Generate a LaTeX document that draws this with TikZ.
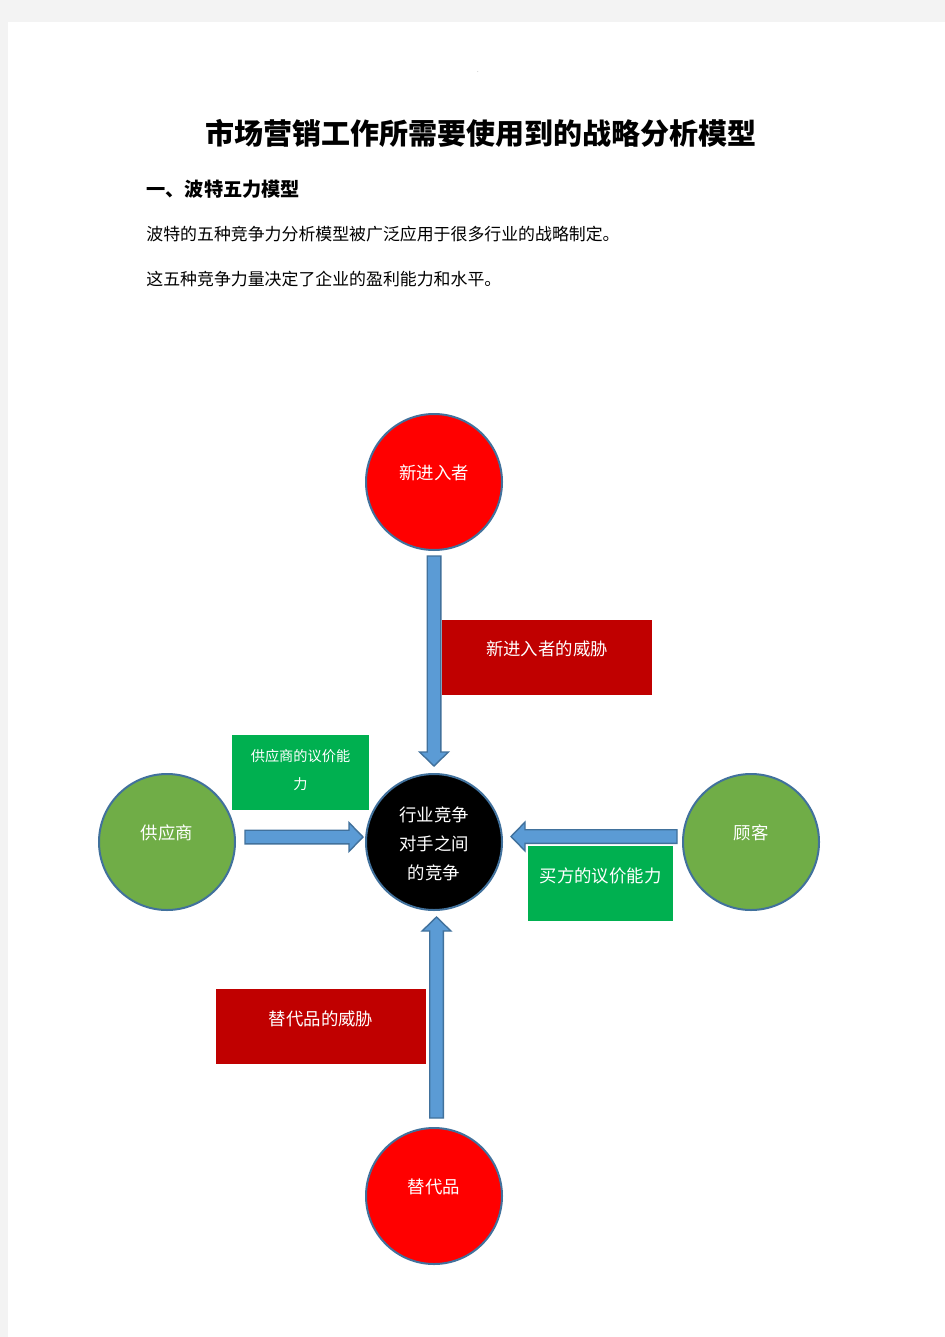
\documentclass[tikz,border=0pt]{standalone}
\usepackage{fontspec}
\setmainfont{Noto Sans CJK SC}
\usetikzlibrary{calc}

\definecolor{pagegray}{HTML}{F3F3F3}
\definecolor{forcered}{HTML}{FF0000}
\definecolor{threatred}{HTML}{C00000}
\definecolor{powergreen}{HTML}{00B050}
\definecolor{partygreen}{HTML}{70AD47}
\definecolor{arrowblue}{HTML}{5B9BD5}
\definecolor{ringblue}{HTML}{41719C}

\tikzset{
  force/.style={circle, draw=ringblue, line width=1pt, minimum size=68pt, inner sep=0pt},
  forcetext/.style={text=white, font=\fontsize{8.7pt}{10pt}\selectfont},
  threatbox/.style={rectangle, fill=threatred, minimum width=105pt, minimum height=37.5pt, inner sep=0pt},
  powerbox/.style={rectangle, fill=powergreen, minimum height=37.5pt, inner sep=0pt},
  bodytext/.style={anchor=west, inner sep=0pt, font=\fontsize{8.45pt}{10pt}\selectfont}
}

% block arrow from #1 to #2
\newcommand{\forcearrow}[2]{%
  \coordinate (ah) at ($(#2)!7pt!(#1)$);
  \filldraw[fill=arrowblue, draw=ringblue, line width=0.7pt]
    ($(#1)!3.4pt!90:(#2)$) -- ($(ah)!3.4pt!90:(#2)$) -- ($(ah)!7.2pt!90:(#2)$) -- (#2)
    -- ($(ah)!7.2pt!-90:(#2)$) -- ($(ah)!3.4pt!-90:(#2)$) -- ($(#1)!3.4pt!-90:(#2)$) -- cycle;
}

\begin{document}
\begin{tikzpicture}[x=0.5pt, y=-0.5pt]
    % Page
    \fill[pagegray] (0,0) rectangle (945,1337);
    \fill[white] (8,22) rectangle (945,1337);
    \node[text=gray, font=\fontsize{3pt}{3pt}\selectfont, inner sep=0pt] (headdot) at (478,72) {.};

    % Title and text
    \node[font=\fontsize{14.5pt}{16pt}\selectfont\bfseries, inner sep=0pt] (title) at (481,133) {市场营销工作所需要使用到的战略分析模型};
    \node[anchor=west, inner sep=0pt, font=\fontsize{9.6pt}{11pt}\selectfont\bfseries] (section) at (146,189) {一、波特五力模型};
    \node[bodytext] (line1) at (146,234) {波特的五种竞争力分析模型被广泛应用于很多行业的战略制定。};
    \node[bodytext] (line2) at (146,279) {这五种竞争力量决定了企业的盈利能力和水平。};

    % Five forces
    \node[force, fill=forcered, label={[forcetext, yshift=4.5pt]center:新进入者}] (entrant) at (434,482) {};
    \node[force, fill=black, label={[forcetext, align=center, yshift=-0.8pt, font=\fontsize{8.7pt}{14.5pt}\selectfont]center:行业竞争\\对手之间\\的竞争}] (rivalry) at (434,842) {};
    \node[force, fill=partygreen, label={[forcetext, yshift=4.5pt]center:供应商}] (supplier) at (167,842) {};
    \node[force, fill=partygreen, label={[forcetext, yshift=4.5pt]center:顾客}] (buyer) at (751,842) {};
    \node[force, fill=forcered, label={[forcetext, yshift=4.5pt]center:替代品}] (substitute) at (434,1196) {};

    % Labels
    \node[threatbox, label={[forcetext, yshift=4pt]center:新进入者的威胁}] (entrantthreat) at (547,657) {};
    \node[powerbox, minimum width=68.5pt, label={[text=white, align=center, yshift=1.2pt, font=\fontsize{7.1pt}{14pt}\selectfont]center:供应商的议价能\\力}] (supplierpower) at (300.5,772.5) {};
    \node[powerbox, minimum width=72.5pt, label={[forcetext, yshift=3.75pt]center:买方的议价能力}] (buyerpower) at (600.5,883.5) {};
    \node[threatbox, label={[forcetext, yshift=3.75pt]center:替代品的威胁}] (substitutethreat) at (321,1026.5) {};

    % Arrows
    \coordinate (entrant-tail) at (434,556);
    \coordinate (entrant-tip) at (434,766);
    \coordinate (supplier-tail) at (245,837);
    \coordinate (supplier-tip) at (363,837);
    \coordinate (buyer-tail) at (677,836.5);
    \coordinate (buyer-tip) at (511,836.5);
    \coordinate (substitute-tail) at (436.5,1118);
    \coordinate (substitute-tip) at (436.5,917);
    \forcearrow{entrant-tail}{entrant-tip}
    \forcearrow{supplier-tail}{supplier-tip}
    \forcearrow{buyer-tail}{buyer-tip}
    \forcearrow{substitute-tail}{substitute-tip}
\end{tikzpicture}
\end{document}
